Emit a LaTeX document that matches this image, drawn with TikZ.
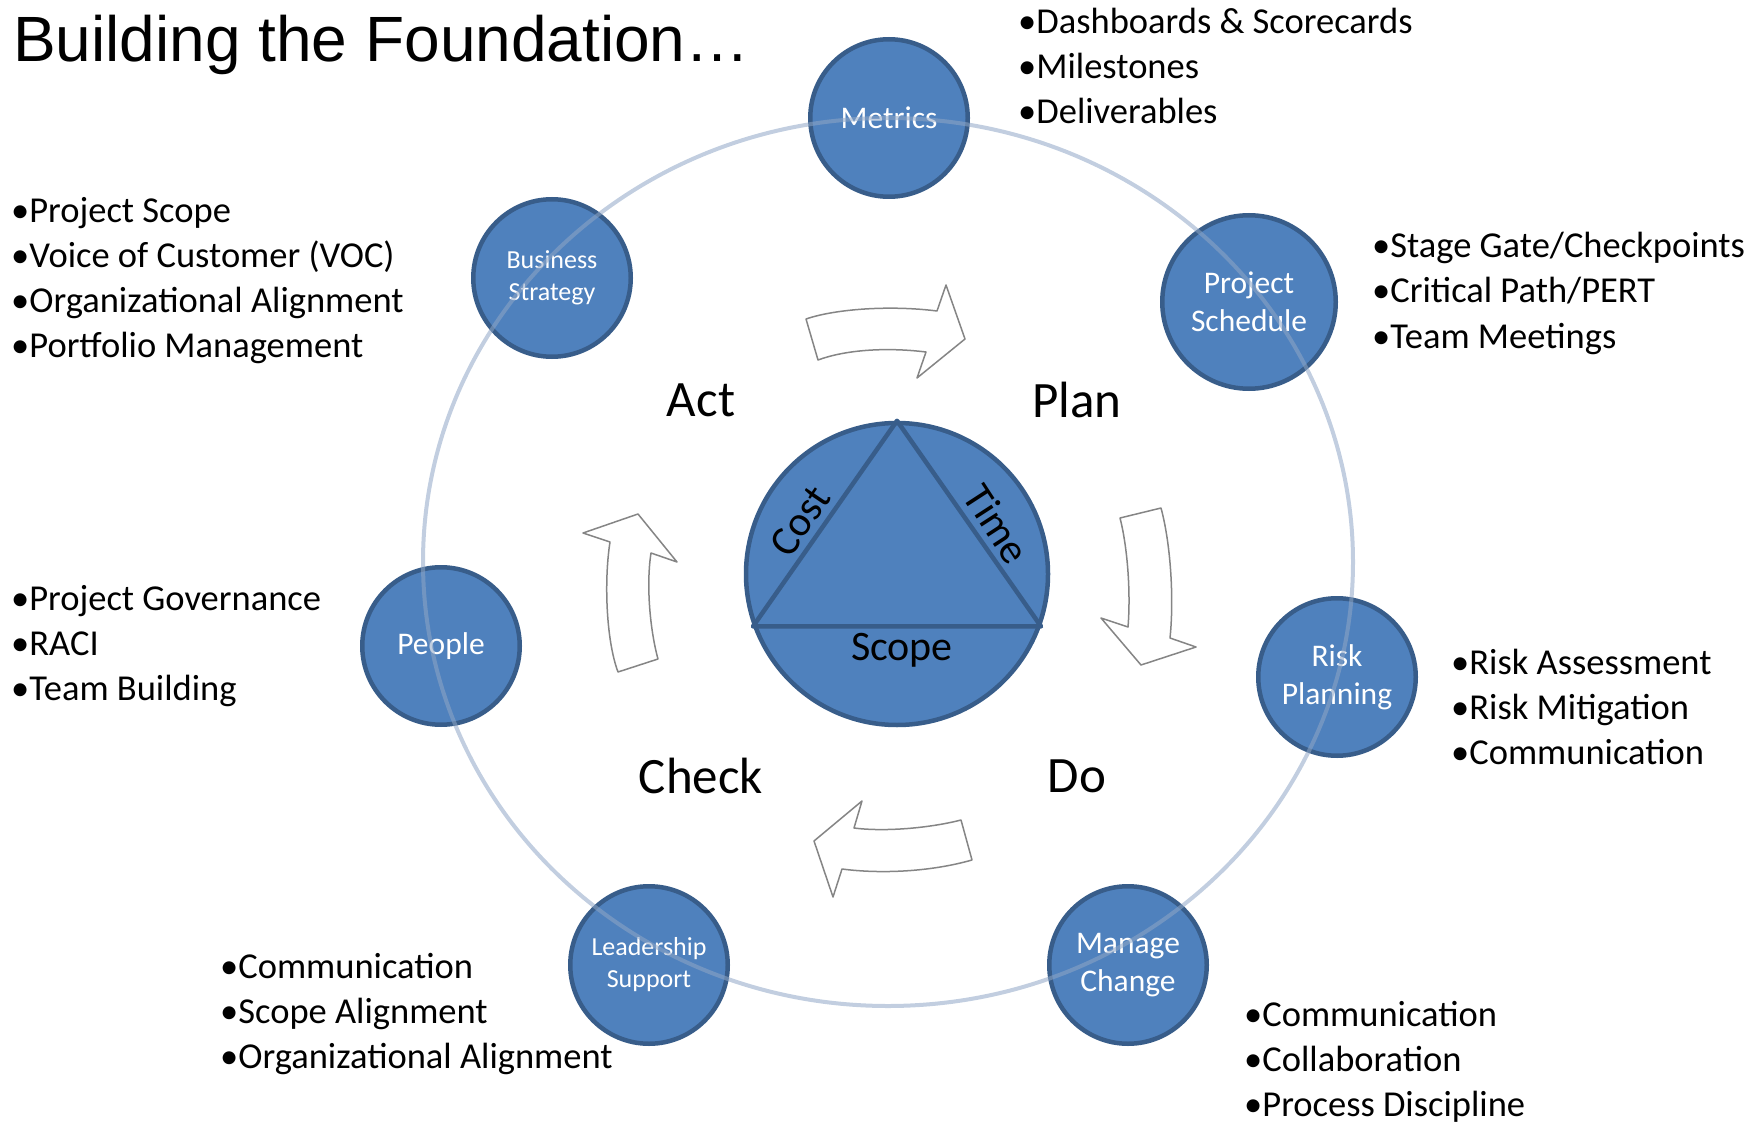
\documentclass[tikz,border=0pt]{standalone}
\usepackage{fontspec}
\setmainfont{Carlito}
\newfontfamily\headfont{Liberation Sans}
\usepackage{tikz}
\definecolor{discblue}{HTML}{4F81BD}
\definecolor{rimblue}{HTML}{385D8A}
\definecolor{ringblue}{HTML}{8FA6C6}
\definecolor{arrowgray}{HTML}{858585}
\newcommand{\fsz}[2]{\fontsize{#1}{#2}\selectfont}

\begin{document}
\begin{tikzpicture}[x=1pt,y=-1pt,
        disc/.style={circle,draw=rimblue,fill=discblue,line width=4.5pt,minimum size=157.5pt,inner sep=0pt,text=white,align=center,font=\fsz{31.5}{38}},
        smalldisc/.style={disc,font=\fsz{26}{32}},
        notes/.style={anchor=base west,align=left,inner sep=0pt,font=\fsz{36.5}{45}},
        phase/.style={inner sep=0pt,font=\fsz{51}{60}},
        turn/.style={draw=arrowgray,fill=white,line width=1.5pt,line join=round},
        ring/.style={draw=ringblue,line width=4pt,opacity=0.55}]
            \useasboundingbox (0,0) rectangle (1764,1123);

            \node[anchor=base west,inner sep=0pt,font=\headfont\fsz{64}{70}] (title) at (13,62) {Building the Foundation…};

            \node[disc] (metrics) at (889,118) {Metrics};
            \node[smalldisc] (strategy) at (552,278) {Business\\Strategy};
            \node[disc,minimum size=173.5pt] (schedule) at (1249,302) {Project\\Schedule};
            \node[disc] (people) at (441,646) {People};
            \node[disc] (risk) at (1337,677) {Risk\\Planning};
            \node[smalldisc] (leadership) at (649,965) {Leadership\\Support};
            \node[disc] (change) at (1128,965) {Manage\\Change};

            \draw[ring] (888,562) ellipse [x radius=465, y radius=444];

            \node[disc,minimum size=302pt] (core) at (897,574) {};
            \draw[rimblue,line width=4.5pt,line join=round] (core.90) -- (core.200) -- (core.-20) -- cycle;
            \node[font=\fsz{42}{50},rotate=56] (cost) at (800,521) {Cost};
            \node[font=\fsz{42}{50},rotate=-57] (time) at (997,524) {Time};
            \node[font=\fsz{42}{50}] (scope) at (902,650) {Scope};

            \node[phase] (act) at (701,400) {Act};
            \node[phase] (plan) at (1077,400) {Plan};
            \node[phase] (check) at (701,776) {Check};
            \node[phase] (do) at (1077,776) {Do};

            \draw[turn] (806,319) .. controls (835,309) and (890,305) .. (937,311) -- (946,285) -- (965,339) -- (917,378) -- (926,352) .. controls (885,347) and (845,350) .. (818,360) -- cycle;
            \draw[turn] (1120,518) .. controls (1127,545) and (1131,590) .. (1128,627) -- (1101,618) -- (1141,665) -- (1196,647) -- (1170,638) .. controls (1174,600) and (1171,545) .. (1161,508) -- cycle;
            \draw[turn] (961,820) .. controls (930,828) and (885,832) .. (854,828) -- (862,801) -- (814,841) -- (833,897) -- (842,869) .. controls (880,874) and (930,872) .. (972,860) -- cycle;
            \draw[turn] (618,672) .. controls (606,640) and (604,580) .. (610,542) -- (583,533) -- (638,514) -- (677,562) -- (651,553) .. controls (646,585) and (650,630) .. (658,659) -- cycle;

            \node[notes] (metricsnotes) at (1018,124) {•Dashboards \& Scorecards\\•Milestones\\•Deliverables};
            \node[notes] (strategynotes) at (11,357) {•Project Scope\\•Voice of Customer (VOC)\\•Organizational Alignment\\•Portfolio Management};
            \node[notes] (schedulenotes) at (1372,348) {•Stage Gate/Checkpoints\\•Critical Path/PERT\\•Team Meetings};
            \node[notes] (peoplenotes) at (11,700) {•Project Governance\\•RACI\\•Team Building};
            \node[notes] (risknotes) at (1451,764) {•Risk Assessment\\•Risk Mitigation\\•Communication};
            \node[notes] (leadershipnotes) at (220,1068) {•Communication\\•Scope Alignment\\•Organizational Alignment};
            \node[notes] (changenotes) at (1244,1116) {•Communication\\•Collaboration\\•Process Discipline};
        \end{tikzpicture}
\end{document}
